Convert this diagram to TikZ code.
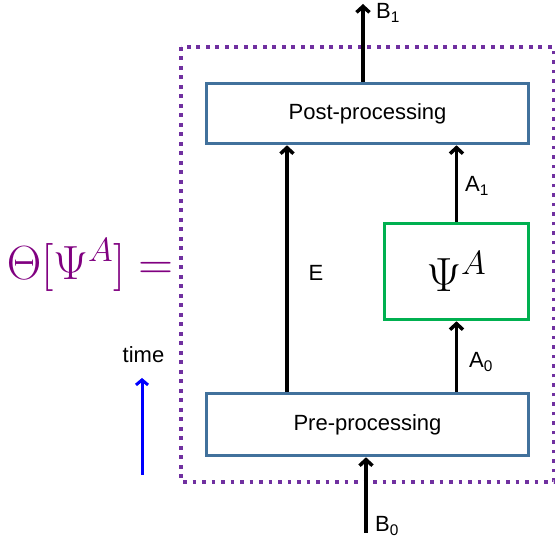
\documentclass[tikz,border=0pt]{standalone}
\usepackage{fix-cm}
\usepackage{fontspec}
\setmainfont{Liberation Sans}
\usetikzlibrary{arrows.meta}
\definecolor{framepurple}{RGB}{112,48,160}
\definecolor{thetapurple}{RGB}{128,0,128}
\definecolor{boxblue}{RGB}{65,113,156}
\definecolor{psigreen}{RGB}{0,176,80}
\begin{document}
\begin{tikzpicture}[x=1pt,y=-1pt,
  font=\fontsize{22}{26}\selectfont,
  procbox/.style={draw=boxblue,line width=3.6pt,minimum width=322pt,inner sep=0pt},
  psibox/.style={draw=psigreen,line width=3.6pt,minimum width=144pt,minimum height=96pt,inner sep=0pt},
  arr/.style={line width=3.5pt,-{Straight Barb[length=6pt,width=13pt]}},
  lbl/.style={anchor=west,inner sep=0pt}]
\useasboundingbox (0,0) rectangle (555,545);
%\draw[step=50,gray,very thin] (0,0) grid (555,545);
\draw[framepurple,line width=3.8pt,dash pattern=on 3.6pt off 5.9pt] (181,47) rectangle (553.5,482);
\node[procbox,minimum height=60pt] (post) at (367.5,113.5) {Post-processing};
\node[procbox,minimum height=62pt] (pre) at (367.5,424.5) {Pre-processing};
\node[psibox] (psi) at (456.5,271.5) {\fontsize{48}{56}\selectfont$\Psi^A$};
\coordinate (b1) at (363,4);
\coordinate (b0) at (366,533);
\draw[arr] ([xshift=-4.5pt]post.north) -- (b1);
\draw[arr] (b0) -- ([xshift=-1.5pt]pre.south);
\draw[arr] ([xshift=-80.5pt]pre.north) -- ([xshift=-80.5pt]post.south);
\draw[arr] (pre.north -| psi.south) -- (psi.south);
\draw[arr] (psi.north) -- (post.south -| psi.north);
\node[] (e) at (316,273) {E};
\node[lbl] (a1) at (465,186) {A\textsubscript{1}};
\node[lbl] (a0) at (469,362) {A\textsubscript{0}};
\node[lbl] (b1l) at (376,13) {B\textsubscript{1}};
\node[lbl] (b0l) at (375,526) {B\textsubscript{0}};
\node[] (theta) at (90,265) {\fontsize{48}{56}\selectfont\color{thetapurple}$\Theta[\Psi^A]=$};
\node[] (time) at (143.5,355) {time};
\coordinate (t0) at (142,475);
\coordinate (t1) at (142,378);
\draw[blue,line width=3pt,-{Straight Barb[length=5pt,width=12pt]}] (t0) -- (t1);
\end{tikzpicture}
\end{document}
